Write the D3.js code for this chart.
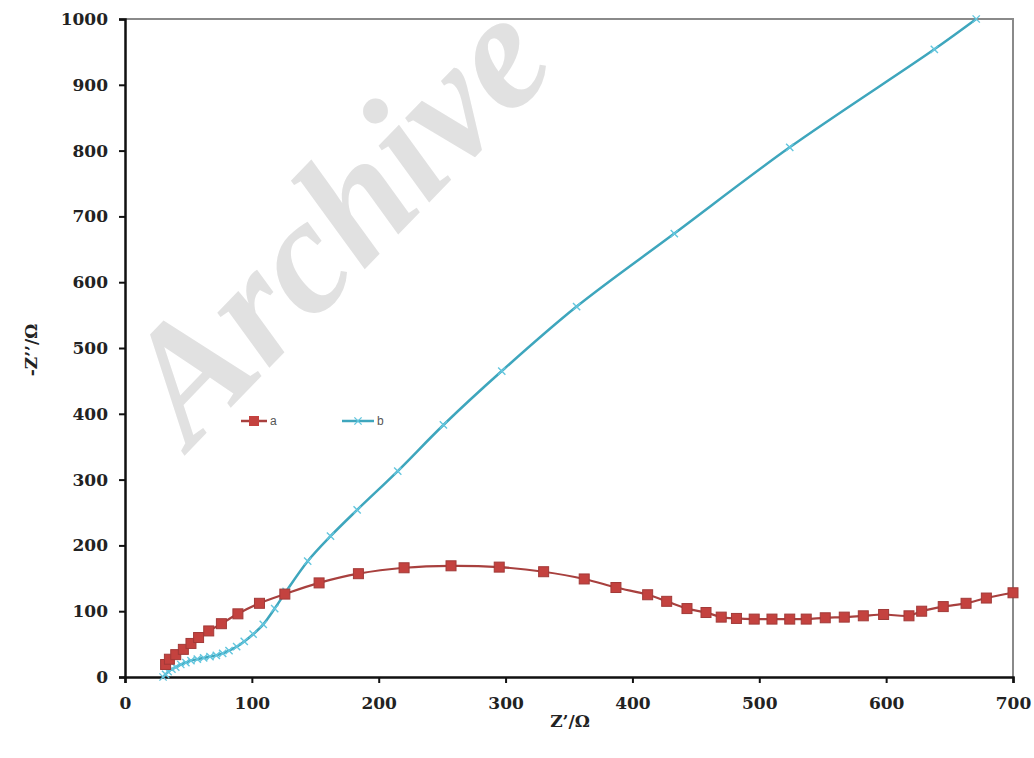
<!DOCTYPE html>
<html>
<head>
<meta charset="utf-8">
<script src="https://cdn.jsdelivr.net/npm/d3@7"></script>
<style>
  body { margin: 0; background: #fff; }
  svg { display: block; }
  .tick text { font-family: 'DejaVu Serif', serif; font-weight: bold; font-size: 17px; fill: #222; }
</style>
</head>
<body>
<svg id="chart" width="1034" height="758"></svg>
<script>
// Nyquist data
const aZre = [32, 35, 40, 46, 52, 58, 66, 76, 89, 106, 126, 153, 184, 220, 257, 295, 330, 362, 387, 412, 427, 443, 458, 470, 482, 496, 510, 524, 537, 552, 567, 582, 598, 618, 628, 645, 663, 679, 700];
const aZim = [19, 27, 34, 42, 51, 60, 70, 81, 96, 112, 126, 143, 157, 166, 169, 167, 160, 149, 136, 125, 115, 104, 98, 91, 89, 88, 88, 88, 88, 90, 91, 93, 95, 93, 100, 107, 112, 120, 128];

const bZre = [30, 32, 34, 37, 40, 44, 48, 52, 57, 62, 67, 72, 77, 82, 88, 94, 101, 109, 118, 127, 144, 162, 183, 215, 251, 297, 356, 433, 524, 638, 671];
const bZim = [0, 4, 8, 12, 15, 19, 22, 25, 27, 29, 31, 33, 36, 40, 46, 54, 65, 80, 104, 130, 176, 214, 254, 313, 383, 465, 563, 674, 805, 954, 1000];

const xTicks = [0, 100, 200, 300, 400, 500, 600, 700];
const yTicks = [0, 100, 200, 300, 400, 500, 600, 700, 800, 900, 1000];

const margin = {top: 19, right: 21, bottom: 81, left: 125};
const width = 1034 - margin.left - margin.right;
const height = 758 - margin.top - margin.bottom;

const svg = d3.select('#chart');
const g = svg.append('g').attr('transform', `translate(${margin.left},${margin.top})`);

const x = d3.scaleLinear().domain([0, 700]).range([0, width]);
const y = d3.scaleLinear().domain([0, 1000]).range([height, 0]);

// watermark sits behind the plot
svg.append('text')
    .attr('transform', 'translate(348,232) rotate(-46)')
    .attr('text-anchor', 'middle')
    .attr('dominant-baseline', 'middle')
    .attr('font-family', "'Liberation Serif', serif")
    .attr('font-weight', 'bold')
    .attr('font-style', 'italic')
    .attr('font-size', 165)
    .attr('fill', '#dadada')
    .attr('opacity', 0.8)
    .text('Archive');

// frame: grey top/right
g.append('path')
    .attr('d', `M0,0H${width}V${height}`)
    .attr('fill', 'none')
    .attr('stroke', '#8a8a8a')
    .attr('stroke-width', 2);

// axes
const xAxis = g.append('g')
    .attr('transform', `translate(0,${height})`)
    .call(d3.axisBottom(x).tickValues(xTicks).tickSize(6).tickPadding(14).tickFormat(d3.format('d')));
const yAxis = g.append('g')
    .call(d3.axisLeft(y).tickValues(yTicks).tickSize(6).tickPadding(11).tickFormat(d3.format('d')));
[xAxis, yAxis].forEach(ax => {
    ax.select('.domain').attr('stroke', '#111').attr('stroke-width', 2.5);
    ax.selectAll('.tick line').attr('stroke', '#111').attr('stroke-width', 2);
});

// axis titles
svg.append('text')
    .attr('x', 570).attr('y', 727)
    .attr('text-anchor', 'middle')
    .attr('font-family', "'DejaVu Serif', serif")
    .attr('font-weight', 'bold')
    .attr('font-size', 17)
    .attr('fill', '#222')
    .text('Z\u2019/\u03A9');
svg.append('text')
    .attr('transform', 'translate(37,350) rotate(-90)')
    .attr('text-anchor', 'middle')
    .attr('font-family', "'DejaVu Serif', serif")
    .attr('font-weight', 'bold')
    .attr('font-size', 17)
    .attr('fill', '#222')
    .text('-Z\u2019\u2019/\u03A9');

const line = d3.line()
    .x(d => x(d[0]))
    .y(d => y(d[1]))
    .curve(d3.curveCatmullRom.alpha(0.5));

const aData = d3.zip(aZre, aZim);
const bData = d3.zip(bZre, bZim);

// series b (cyan, x markers)
g.append('path')
    .datum(bData)
    .attr('d', line)
    .attr('fill', 'none')
    .attr('stroke', '#3ea6bd')
    .attr('stroke-width', 2.5);
const cross = d3.symbol().type(d3.symbolX).size(36);
g.append('g').selectAll('path')
    .data(bData)
    .join('path')
    .attr('transform', d => `translate(${x(d[0])},${y(d[1])})`)
    .attr('d', cross)
    .attr('fill', 'none')
    .attr('stroke', '#63c6de')
    .attr('stroke-width', 1.4);

// series a (red, squares)
g.append('path')
    .datum(aData)
    .attr('d', line)
    .attr('fill', 'none')
    .attr('stroke', '#a8403e')
    .attr('stroke-width', 2.2);
g.append('g').selectAll('rect')
    .data(aData)
    .join('rect')
    .attr('x', d => x(d[0]) - 5)
    .attr('y', d => y(d[1]) - 5)
    .attr('width', 10)
    .attr('height', 10)
    .attr('fill', '#c4423f')
    .attr('stroke', '#a23a38')
    .attr('stroke-width', 1);

// legend
const legend = svg.append('g').attr('transform', 'translate(241,421)');
legend.append('line').attr('x1', 0).attr('x2', 26).attr('stroke', '#a8403e').attr('stroke-width', 2.5);
legend.append('rect').attr('x', 8).attr('y', -5).attr('width', 10).attr('height', 10).attr('fill', '#c4423f');
legend.append('text').attr('x', 29).attr('y', 4).attr('font-family', "'Liberation Sans', sans-serif").attr('font-size', 12).attr('fill', '#555').text('a');
legend.append('line').attr('x1', 101).attr('x2', 133).attr('stroke', '#3ea6bd').attr('stroke-width', 2.5);
legend.append('path').attr('transform', 'translate(117,0)').attr('d', cross).attr('fill', 'none').attr('stroke', '#63c6de').attr('stroke-width', 1.4);
legend.append('text').attr('x', 136).attr('y', 4).attr('font-family', "'Liberation Sans', sans-serif").attr('font-size', 12).attr('fill', '#555').text('b');
</script>
</body>
</html>
